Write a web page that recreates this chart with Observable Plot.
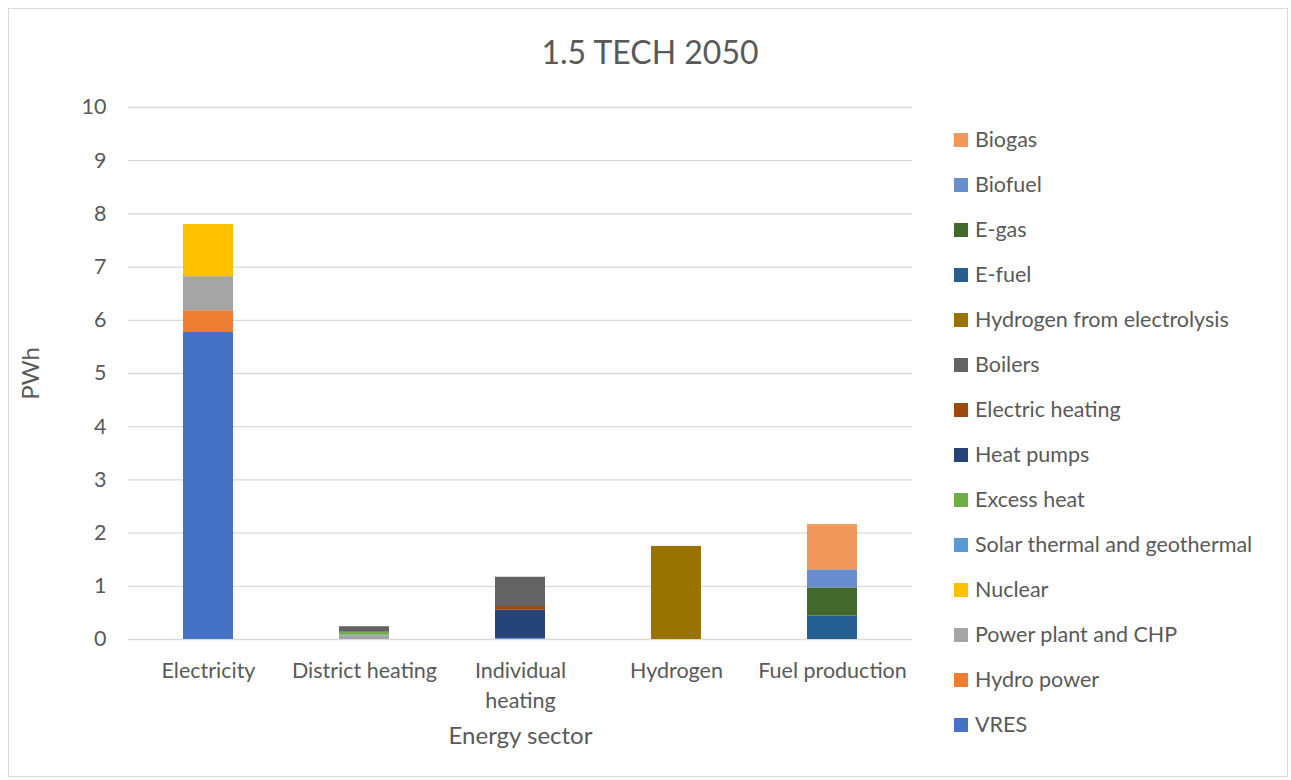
<!DOCTYPE html>
<html>
<head>
<meta charset="utf-8">
<script src="https://cdn.jsdelivr.net/npm/d3@7"></script>
<script src="https://cdn.jsdelivr.net/npm/@observablehq/plot@0.6"></script>
<style>
  html, body { margin: 0; padding: 0; background: #fff; }
  #wrap { position: relative; width: 1291px; height: 780px; font-family: Lato, "Noto Sans", sans-serif; color: #595959; }
  #frame { position: absolute; left: 8px; top: 8px; width: 1280px; height: 769px; border: 1px solid #d9d9d9; box-sizing: border-box; pointer-events: none; }
  #title { position: absolute; left: 0; width: 1300px; top: 32px; text-align: center; font-size: 32px; color: #595959; }
  #legend { position: absolute; left: 954px; top: 127px; }
  .row { height: 45px; display: flex; align-items: flex-start; font-size: 21.5px; line-height: 24px; white-space: nowrap; }
  .sw { width: 14px; height: 14px; margin-right: 7px; margin-top: 6px; }
  #chart { position: absolute; left: 0; top: 0; }
  #chart svg text { font-size: 21.5px; }
  #chart svg g[aria-label="x-axis label"] text, #chart svg g[aria-label="y-axis label"] text { font-size: 24px; }
</style>
</head>
<body>
<div id="wrap">
  <div id="chart"></div>
  <div id="title">1.5 TECH 2050</div>
  <div id="legend"></div>
  <div id="frame"></div>
</div>
<script>
const categories = ["Electricity", "District heating", "Individual heating", "Hydrogen", "Fuel production"];
const categoryLabels = ["Electricity", "District heating", "Individual\nheating", "Hydrogen", "Fuel production"];

// series in stacking order (bottom first)
const seriesNames = ["VRES", "Hydro power", "Power plant and CHP", "Nuclear", "Solar thermal and geothermal",
  "Excess heat", "Heat pumps", "Electric heating", "Boilers", "Hydrogen from electrolysis",
  "E-fuel", "E-gas", "Biofuel", "Biogas"];
const seriesColors = ["#4472C4", "#ED7D31", "#A5A5A5", "#FFC000", "#5B9BD5",
  "#70AD47", "#264478", "#9E480E", "#636363", "#997300",
  "#255E91", "#43682B", "#698ED0", "#F1975A"];

const VRES = [5.77, 0, 0, 0, 0];
const hydroPower = [0.41, 0, 0, 0, 0];
const powerPlantCHP = [0.64, 0.07, 0, 0, 0];
const nuclear = [0.98, 0, 0, 0, 0];
const solarThermalGeo = [0, 0.01, 0.02, 0, 0];
const excessHeat = [0, 0.05, 0, 0, 0];
const heatPumps = [0, 0.01, 0.53, 0, 0];
const electricHeating = [0, 0, 0.07, 0, 0];
const boilers = [0, 0.10, 0.55, 0, 0];
const hydrogenElectrolysis = [0, 0, 0, 1.75, 0];
const eFuel = [0, 0, 0, 0, 0.44];
const eGas = [0, 0, 0, 0, 0.53];
const biofuel = [0, 0, 0, 0, 0.34];
const biogas = [0, 0, 0, 0, 0.85];

const seriesValues = [VRES, hydroPower, powerPlantCHP, nuclear, solarThermalGeo, excessHeat, heatPumps,
  electricHeating, boilers, hydrogenElectrolysis, eFuel, eGas, biofuel, biogas];

const yTicks = [0, 1, 2, 3, 4, 5, 6, 7, 8, 9, 10];

const rows = [];
seriesNames.forEach((s, i) => {
  categories.forEach((c, j) => {
    rows.push({series: s, category: c, value: seriesValues[i][j]});
  });
});

const chart = Plot.plot({
  width: 1291,
  height: 780,
  marginTop: 107,
  marginBottom: 141,
  marginLeft: 128,
  marginRight: 379,
  style: {fontFamily: "Lato, 'Noto Sans', sans-serif", fontSize: "21.5px", color: "#595959", background: "transparent"},
  x: {domain: categories, paddingInner: 0.68, paddingOuter: 0.34},
  y: {domain: [0, 10]},
  color: {domain: seriesNames, range: seriesColors},
  marks: [
    Plot.gridY(yTicks, {stroke: "#d9d9d9", strokeOpacity: 1, strokeWidth: 1.3}),
    Plot.barY(rows, {x: "category", y: "value", fill: "series", order: null}),
    Plot.axisY({ticks: yTicks, tickSize: 0, tickPadding: 22, label: "PWh", labelAnchor: "center",
      labelArrow: "none", labelOffset: 107}),
    Plot.axisX({tickSize: 0, tickPadding: 17, tickFormat: d => categoryLabels[categories.indexOf(d)],
      lineHeight: 1.4, label: "Energy sector", labelAnchor: "center", labelArrow: "none", labelOffset: 104})
  ]
});
document.getElementById("chart").appendChild(chart);

// legend (top to bottom = reverse stacking order)
const legend = document.getElementById("legend");
for (let i = seriesNames.length - 1; i >= 0; i--) {
  const row = document.createElement("div");
  row.className = "row";
  const sw = document.createElement("div");
  sw.className = "sw";
  sw.style.background = seriesColors[i];
  const t = document.createElement("span");
  t.textContent = seriesNames[i];
  row.appendChild(sw);
  row.appendChild(t);
  legend.appendChild(row);
}
</script>
</body>
</html>
